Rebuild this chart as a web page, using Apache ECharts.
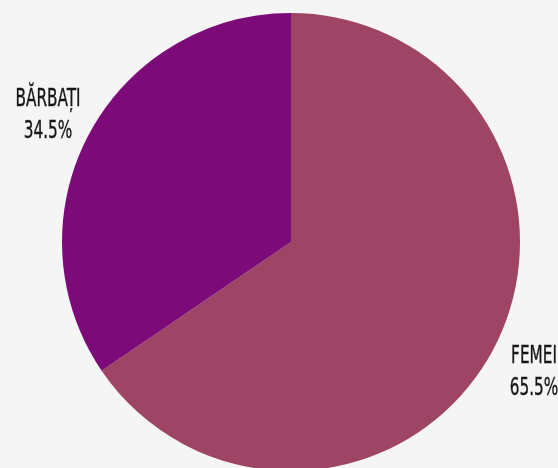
<!DOCTYPE html>
<html><head><meta charset="utf-8">
<script src="https://cdn.jsdelivr.net/npm/echarts@6/dist/echarts.min.js"></script>
<style>html,body{margin:0;padding:0;background:#f5f5f5;}#c{width:558px;height:468px;}</style>
</head><body><div id="c"></div>
<script>
var categories = ['FEMEI', 'BĂRBAȚI'];
var values = [65.5, 34.5];
var colors = ['#9e4566', '#7c0b79'];

var CX = 291, CY = 242, R = 229, LR = 275, LDY = 2;
var total = values.reduce(function(a, b){ return a + b; }, 0);
function midAngle(i) {
  var before = 0;
  for (var k = 0; k < i; k++) before += values[k];
  var mid = before + values[i] / 2;
  return (90 - mid / total * 360) * Math.PI / 180;
}

var labels = categories.map(function(c, i){
  var a = midAngle(i);
  return {
    type: 'text',
    x: CX + LR * Math.cos(a),
    y: CY - LR * Math.sin(a) + LDY,
    scaleX: 0.68,
    silent: true,
    style: {
      text: c + '\n' + values[i] + '%',
      font: "25px 'DejaVu Sans Condensed', 'DejaVu Sans', sans-serif",
      lineHeight: 32,
      fill: '#161616',
      stroke: '#161616',
      lineWidth: 0.35,
      textAlign: 'center',
      textVerticalAlign: 'middle'
    }
  };
});

var chart = echarts.init(document.getElementById('c'));
chart.setOption({
  backgroundColor: '#f5f5f5',
  animation: false,
  graphic: labels,
  series: [{
    type: 'pie',
    center: [CX, CY],
    radius: [0, R],
    startAngle: 90,
    clockwise: true,
    data: categories.map(function(c, i){ return {name: c, value: values[i], itemStyle: {color: colors[i]}}; }),
    label: {show: false},
    labelLine: {show: false}
  }]
});
</script></body></html>
